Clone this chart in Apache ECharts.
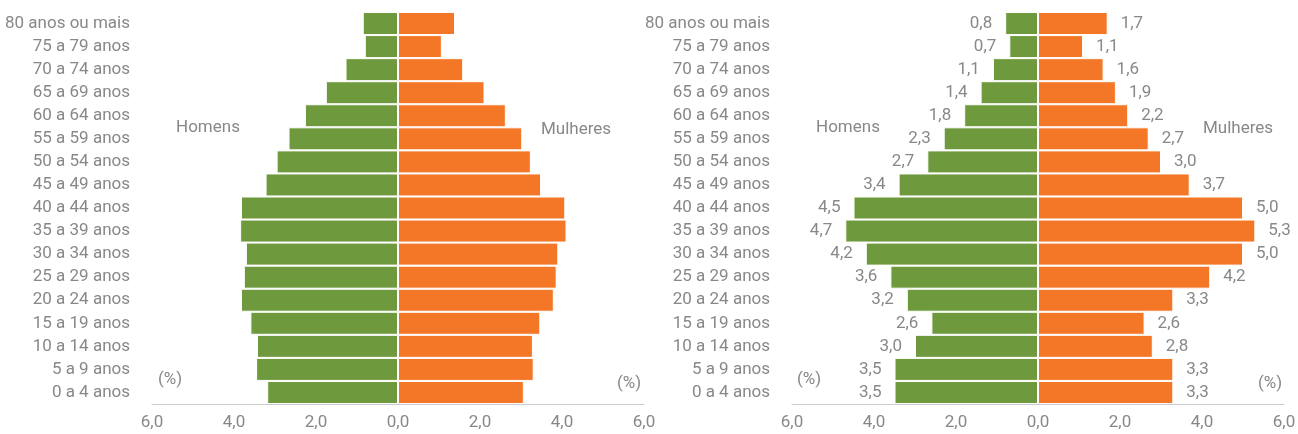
<!DOCTYPE html>
<html>
<head>
<meta charset="utf-8">
<script src="https://cdn.jsdelivr.net/npm/echarts@6/dist/echarts.min.js"></script>
<style>
  html, body { margin: 0; padding: 0; background: #fff; }
  #chart { width: 1298px; height: 434px; }
</style>
</head>
<body>
<div id="chart"></div>
<script>
// faixas etarias, de cima para baixo
const categories = [
  '80 anos ou mais', '75 a 79 anos', '70 a 74 anos', '65 a 69 anos',
  '60 a 64 anos', '55 a 59 anos', '50 a 54 anos', '45 a 49 anos',
  '40 a 44 anos', '35 a 39 anos', '30 a 34 anos', '25 a 29 anos',
  '20 a 24 anos', '15 a 19 anos', '10 a 14 anos', '5 a 9 anos', '0 a 4 anos'
];

// painel esquerdo (sem rótulos, valores estimados)
const leftMen = [0.86, 0.81, 1.28, 1.76, 2.27, 2.67, 2.96, 3.23, 3.83, 3.85, 3.71, 3.76, 3.83, 3.60, 3.44, 3.46, 3.19];
const leftWomen = [1.39, 1.07, 1.59, 2.11, 2.63, 3.03, 3.24, 3.49, 4.08, 4.11, 3.91, 3.87, 3.80, 3.47, 3.29, 3.31, 3.07];

// painel direito
const rightMen = [0.8, 0.7, 1.1, 1.4, 1.8, 2.3, 2.7, 3.4, 4.5, 4.7, 4.2, 3.6, 3.2, 2.6, 3.0, 3.5, 3.5];
const rightWomen = [1.7, 1.1, 1.6, 1.9, 2.2, 2.7, 3.0, 3.7, 5.0, 5.3, 5.0, 4.2, 3.3, 2.6, 2.8, 3.3, 3.3];

const axisMin = -6;
const axisMax = 6;
const axisStep = 2;

const green = '#6e9a3d';
const orange = '#f37726';
const textColor = '#888888';
const lineColor = '#cccccc';
const fontFamily = 'Roboto, "Liberation Sans", sans-serif';
const fontSize = 17;

const fmt = (v) => Math.abs(v).toFixed(1).replace('.', ',');

const chart = echarts.init(document.getElementById('chart'));

const grids = [
  { left: 152, right: 654, top: 12, bottom: 30, outerBoundsMode: 'none' },
  { left: 792, right: 14, top: 12, bottom: 30, outerBoundsMode: 'none' }
];

const xAxis = grids.map((g, i) => ({
  type: 'value',
  gridIndex: i,
  min: axisMin,
  max: axisMax,
  interval: axisStep,
  axisLine: { show: true, onZero: false, lineStyle: { color: lineColor } },
  axisTick: { show: false },
  splitLine: { show: false },
  axisLabel: {
    color: textColor,
    fontFamily: fontFamily,
    fontSize: fontSize,
    margin: 10,
    formatter: fmt
  }
}));

const yAxis = [];
grids.forEach((g, i) => {
  // rótulos das faixas etárias
  yAxis.push({
    type: 'category',
    gridIndex: i,
    data: categories,
    inverse: true,
    position: 'left',
    axisLine: { show: false, onZero: false },
    axisTick: { show: false },
    axisLabel: {
      interval: 0,
      color: textColor,
      fontFamily: fontFamily,
      fontSize: fontSize,
      margin: 22
    }
  });
  // linha do zero
  yAxis.push({
    type: 'category',
    gridIndex: i,
    data: categories,
    inverse: true,
    position: 'left',
    axisLine: { show: true, onZero: true, onZeroAxisIndex: i, lineStyle: { color: lineColor } },
    axisTick: { show: true, interval: 0, alignWithLabel: true, length: 3, lineStyle: { color: '#aaaaaa' } },
    axisLabel: { show: false }
  });
});

const barStyle = (color) => ({ color: color, borderColor: '#ffffff', borderWidth: 1 });

const series = [
  {
    type: 'bar', name: 'Homens', xAxisIndex: 0, yAxisIndex: 0, stack: 'a',
    barWidth: 23, itemStyle: barStyle(green),
    data: leftMen.map(v => -v)
  },
  {
    type: 'bar', name: 'Mulheres', xAxisIndex: 0, yAxisIndex: 0, stack: 'a',
    barWidth: 23, itemStyle: barStyle(orange),
    data: leftWomen
  },
  {
    type: 'bar', name: 'Homens', xAxisIndex: 1, yAxisIndex: 2, stack: 'b',
    barWidth: 23, itemStyle: barStyle(green),
    label: {
      show: true, position: 'left', distance: 13, color: textColor,
      fontFamily: fontFamily, fontSize: fontSize,
      formatter: (p) => fmt(p.value)
    },
    data: rightMen.map(v => -v)
  },
  {
    type: 'bar', name: 'Mulheres', xAxisIndex: 1, yAxisIndex: 2, stack: 'b',
    barWidth: 23, itemStyle: barStyle(orange),
    label: {
      show: true, position: 'right', distance: 13, color: textColor,
      fontFamily: fontFamily, fontSize: fontSize,
      formatter: (p) => fmt(p.value)
    },
    data: rightWomen
  }
];

const note = (text, x, y) => ({
  type: 'text', left: x, top: y,
  style: { text: text, fill: textColor, font: fontSize + 'px ' + fontFamily }
});

chart.setOption({
  animation: false,
  grid: grids,
  xAxis: xAxis,
  yAxis: yAxis,
  series: series,
  graphic: [
    note('Homens', 176, 119),
    note('Mulheres', 541, 121),
    note('(%)', 158, 371),
    note('(%)', 617, 375),
    note('Homens', 816, 119),
    note('Mulheres', 1203, 120),
    note('(%)', 797, 371),
    note('(%)', 1258, 375)
  ]
});
</script>
</body>
</html>
